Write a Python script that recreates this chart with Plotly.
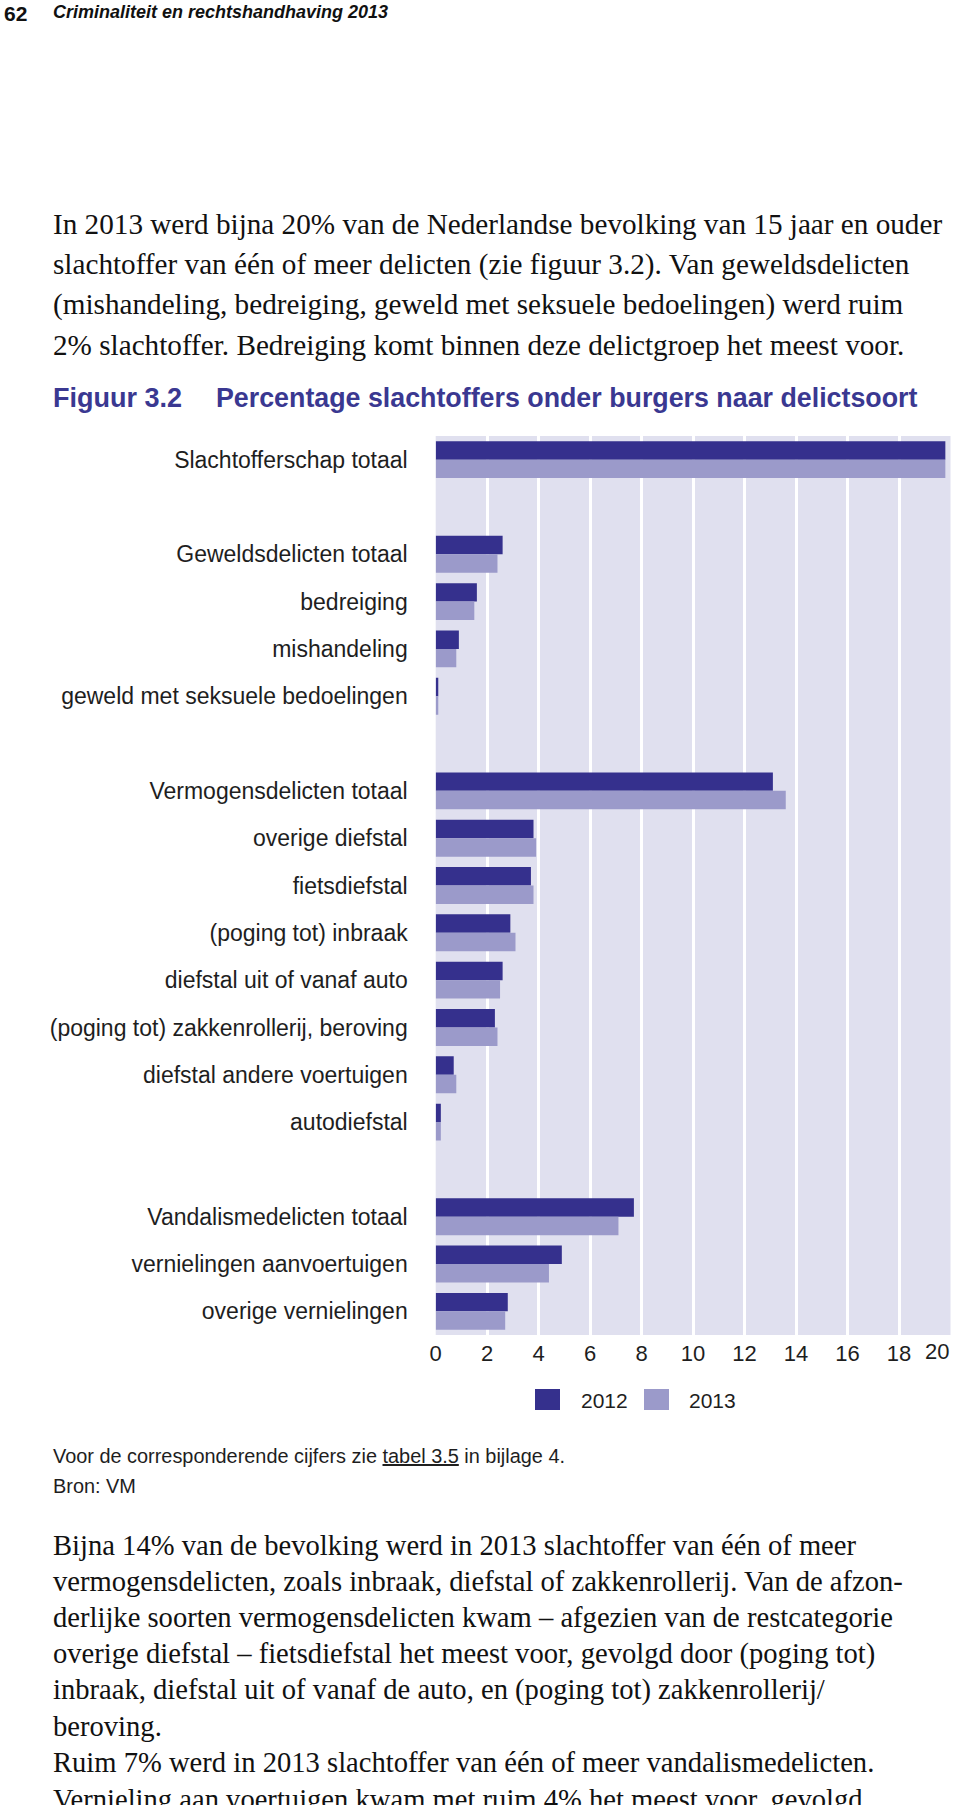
import plotly.graph_objects as go

# ── Data ──────────────────────────────────────────────────────────────────────
CATEGORIES = [
    "Slachtofferschap totaal",
    "Geweldsdelicten totaal",
    "bedreiging",
    "mishandeling",
    "geweld met seksuele bedoelingen",
    "Vermogensdelicten totaal",
    "overige diefstal",
    "fietsdiefstal",
    "(poging tot) inbraak",
    "diefstal uit of vanaf auto",
    "(poging tot) zakkenrollerij, beroving",
    "diefstal andere voertuigen",
    "autodiefstal",
    "Vandalismedelicten totaal",
    "vernielingen aanvoertuigen",
    "overige vernielingen",
]
GROUP_SIZES = [1, 4, 8, 3]          # an empty row separates the groups
YEARS = ["2012", "2013"]
VALUES_2012 = [19.8, 2.6, 1.6, 0.9, 0.1, 13.1, 3.8, 3.7, 2.9, 2.6, 2.3, 0.7, 0.2, 7.7, 4.9, 2.8]
VALUES_2013 = [19.8, 2.4, 1.5, 0.8, 0.1, 13.6, 3.9, 3.8, 3.1, 2.5, 2.4, 0.8, 0.2, 7.1, 4.4, 2.7]
X_TICKS = [0, 2, 4, 6, 8, 10, 12, 14, 16, 18, 20]

PARA_1 = [
    "In 2013 werd bijna 20% van de Nederlandse bevolking van 15 jaar en ouder",
    "slachtoffer van één of meer delicten (zie figuur 3.2). Van geweldsdelicten",
    "(mishandeling, bedreiging, geweld met seksuele bedoelingen) werd ruim",
    "2% slachtoffer. Bedreiging komt binnen deze delictgroep het meest voor.",
]
PARA_2 = [
    "Bijna 14% van de bevolking werd in 2013 slachtoffer van één of meer",
    "vermogensdelicten, zoals inbraak, diefstal of zakkenrollerij. Van de afzon-",
    "derlijke soorten vermogensdelicten kwam – afgezien van de restcategorie",
    "overige diefstal – fietsdiefstal het meest voor, gevolgd door (poging tot)",
    "inbraak, diefstal uit of vanaf de auto, en (poging tot) zakkenrollerij/",
    "beroving.",
    "Ruim 7% werd in 2013 slachtoffer van één of meer vandalismedelicten.",
    "Vernieling aan voertuigen kwam met ruim 4% het meest voor, gevolgd",
]

# ── Style ─────────────────────────────────────────────────────────────────────
W, H = 960, 1805
DARK = "#35308d"
LIGHT = "#9b9aca"
PLOT_BG = "#e0e0ef"
BLUE_TITLE = "#3a3891"
INK = "#1e1e1e"
SANS = "Liberation Sans, Arial, sans-serif"
SERIF = "Liberation Serif, Times New Roman, serif"


def px(x):
    """page pixel x -> paper coordinate"""
    return x / W


def py(y):
    """page pixel y -> paper coordinate"""
    return 1 - y / H


# row positions, leaving one blank row between groups
positions = []
slot = 0
for size in GROUP_SIZES:
    for _ in range(size):
        positions.append(slot)
        slot += 1
    slot += 1
n_rows = slot - 1

fig = go.Figure()
for name, vals, col in zip(YEARS, [VALUES_2012, VALUES_2013], [DARK, LIGHT]):
    fig.add_trace(go.Bar(
        x=vals, y=positions, orientation="h", name=name,
        marker=dict(color=col, line=dict(width=0)),
        showlegend=False,
    ))

annotations = []


def text(s, x, y, size, family=SANS, color=INK, xanchor="left", yanchor="middle", bold=False):
    annotations.append(dict(
        text=f"<b>{s}</b>" if bold else s,
        x=px(x), y=py(y), xref="paper", yref="paper",
        xanchor=xanchor, yanchor=yanchor, showarrow=False,
        font=dict(size=size, family=family, color=color),
    ))


# page header
text("62", 2, 0, 21, bold=True, color="#111", yanchor="top")
text("<i>Criminaliteit en rechtshandhaving 2013</i>", 51, 0, 18, bold=True,
     color="#111", yanchor="top")

# body paragraphs
for i, line in enumerate(PARA_1):
    text(line, 51, 224 + i * 40.3, 29.2, family=SERIF, color="#111")
for i, line in enumerate(PARA_2):
    text(line, 51, 1545 + i * 36.3, 28.6, family=SERIF, color="#111")

# figure title
text("Figuur 3.2", 51, 398, 27, color=BLUE_TITLE, bold=True)
text("Percentage slachtoffers onder burgers naar delictsoort", 214, 398, 26.8,
     color=BLUE_TITLE, bold=True)

# source notes
text("Voor de corresponderende cijfers zie <u>tabel 3.5</u> in bijlage 4.", 51, 1456, 19.9)
text("Bron: VM", 51, 1486, 19.9)

# last x tick label, kept inside the page
annotations.append(dict(
    text=str(X_TICKS[-1]), x=X_TICKS[-1], xref="x", y=py(1351), yref="paper",
    xanchor="right", yanchor="middle", showarrow=False,
    font=dict(size=22, family=SANS, color=INK),
))

# legend
shapes = []
for (x0, tx), name, col in zip([(535, 579), (644, 687)], YEARS, [DARK, LIGHT]):
    shapes.append(dict(type="rect", xref="paper", yref="paper",
                       x0=px(x0), x1=px(x0 + 25), y0=py(1410), y1=py(1389),
                       fillcolor=col, line=dict(width=0)))
    text(name, tx, 1400, 21)

fig.update_layout(
    width=W, height=H,
    template="none",
    paper_bgcolor="white",
    plot_bgcolor=PLOT_BG,
    margin=dict(l=0, r=0, t=0, b=0, autoexpand=False),
    barmode="group",
    bargap=0.22,
    bargroupgap=0,
    showlegend=False,
    xaxis=dict(
        domain=[px(435.7), px(950.5)],
        range=[0, 20],
        tickvals=X_TICKS[:-1],
        showgrid=True, gridcolor="white", gridwidth=3,
        zeroline=False, showline=False, ticks="",
        ticklabelstandoff=3,
        tickfont=dict(size=22, family=SANS, color=INK),
        automargin=False,
    ),
    yaxis=dict(
        domain=[py(1335), py(436)],
        range=[n_rows - 0.5, -0.5],
        tickvals=positions,
        ticktext=CATEGORIES,
        showgrid=False, zeroline=False, showline=False, ticks="",
        ticklabelstandoff=27,
        tickfont=dict(size=23, family=SANS, color=INK),
        automargin=False,
    ),
    annotations=annotations,
    shapes=shapes,
)

# drop the browser's default body margin so the figure sits at the page origin
fig.write_html(
    "out.html",
    config={"displayModeBar": False},
    post_script="document.body.style.margin = '0';",
)
